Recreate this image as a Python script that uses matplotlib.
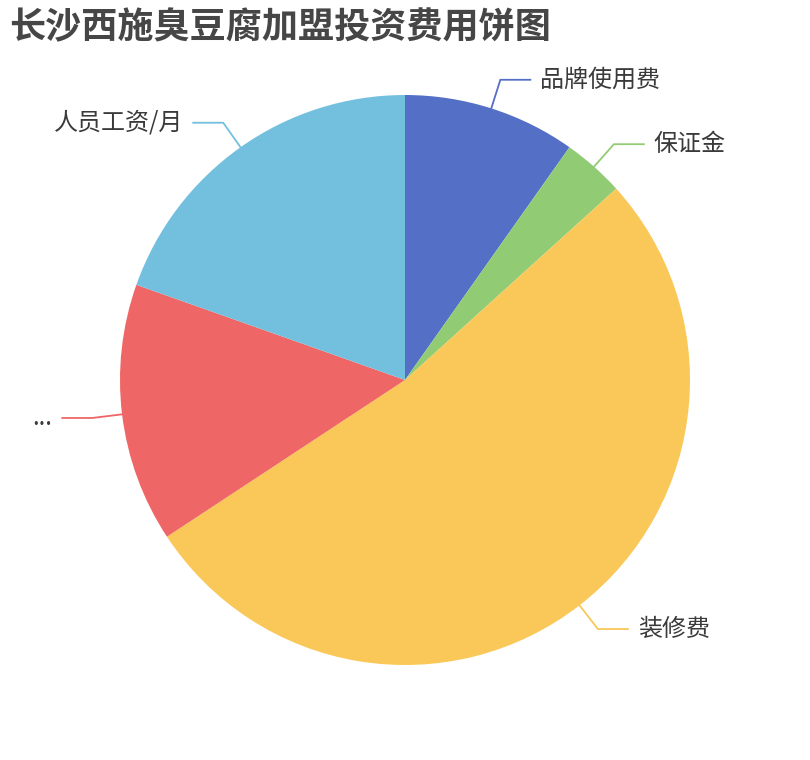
import numpy as np
import matplotlib
matplotlib.use("Agg")
import matplotlib.pyplot as plt

plt.rcParams['font.family'] = ['Noto Sans CJK SC', 'DejaVu Sans']

# 数据
categories = ["品牌使用费", "保证金", "装修费", "...", "人员工资/月"]
values = [28000, 10000, 150000, 42000, 56000]
colors = ["#5470c6", "#91cc75", "#fac858", "#ee6666", "#73c0de"]

W, H = 810, 760
fig = plt.figure(figsize=(W / 100, H / 100), dpi=100)
ax = fig.add_axes([0, 0, 1, 1])
ax.set_xlim(0, W)
ax.set_ylim(0, H)
ax.set_aspect('equal')
ax.axis('off')

cx, cy, r = 405, 380, 285
wedges, _ = ax.pie(values, colors=colors, startangle=90, counterclock=False,
                   center=(cx, cy), radius=r, wedgeprops=dict(linewidth=0))
ax.set_xlim(0, W)
ax.set_ylim(0, H)

# 标签引导线
for w, name, c in zip(wedges, categories, colors):
    mid = np.deg2rad((w.theta1 + w.theta2) / 2)
    x0, y0 = cx + r * np.cos(mid), cy + r * np.sin(mid)
    x1, y1 = cx + (r + 30) * np.cos(mid), cy + (r + 30) * np.sin(mid)
    side = 1 if np.cos(mid) >= 0 else -1
    x2 = x1 + side * 30
    ax.plot([x0, x1, x2], [y0, y1, y1], color=c, linewidth=1.3,
            solid_joinstyle='miter')
    ax.text(x2 + side * 10, y1, name, fontsize=17.3, color="#3a3a3a",
            ha='left' if side > 0 else 'right', va='center')

fig.text(9 / W, 1 - 9 / H, "长沙西施臭豆腐加盟投资费用饼图", fontsize=26,
         fontweight='bold', color="#464646", ha='left', va='top')

fig.savefig("out.png", dpi=100)
